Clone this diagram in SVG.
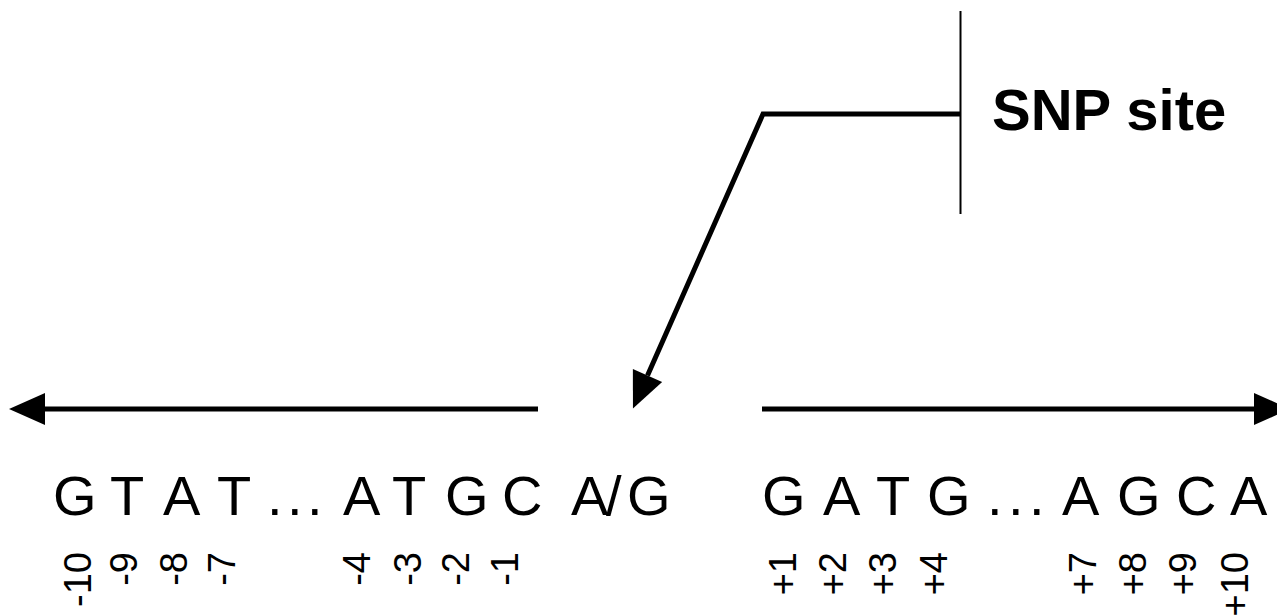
<svg xmlns="http://www.w3.org/2000/svg" width="1277" height="615" viewBox="0 0 1277 615">
  <defs>
    <style>
      .seq { font-family: "Liberation Sans", Arial, sans-serif; font-size: 56px; fill: #000; }
      .lbl { font-family: "Liberation Sans", Arial, sans-serif; font-size: 58px; font-weight: bold; fill: #000; }
      .pos { font-family: "Liberation Sans", Arial, sans-serif; font-size: 38px; fill: #000; }
      .thick { fill: none; stroke: #000; stroke-width: 5; stroke-linejoin: miter; }
      .thin { fill: none; stroke: #000; stroke-width: 2; }
    </style>
    <marker id="head" markerUnits="userSpaceOnUse" markerWidth="40" markerHeight="36" refX="0" refY="16" orient="auto" overflow="visible">
      <path d="M0,0 L36,16 L0,32 Z" fill="#000"/>
    </marker>
  </defs>
  <rect x="0" y="0" width="1277" height="615" fill="#fff"/>

  <g id="connectors">
    <line class="thick" x1="538" y1="409" x2="45" y2="409" marker-end="url(#head)"/>
    <line class="thick" x1="762" y1="409" x2="1254" y2="409" marker-end="url(#head)"/>
    <path class="thick" d="M960,114 L763,114 L647.5,375.5" marker-end="url(#head)"/>
    <line class="thin" x1="960.5" y1="11" x2="960.5" y2="214"/>
  </g>

  <g id="snp-label">
    <text class="lbl" x="992" y="130">SNP site</text>
  </g>

  <g id="sequence-left">
    <text class="seq" x="53 110 163 217 267 287 307 343 392 445 502 540 571 606 627" y="515">GTAT...ATGC A/G</text>
  </g>

  <g id="sequence-right">
    <text class="seq" x="762 823 876 927 987 1008 1029 1062 1117 1176 1230" y="515">GATG...AGCA</text>
  </g>

  <g id="positions-left" class="pos" text-anchor="end">
    <text transform="translate(91,552) rotate(-90)">-10</text>
    <text transform="translate(137,552) rotate(-90)">-9</text>
    <text transform="translate(187,552) rotate(-90)">-8</text>
    <text transform="translate(235,552) rotate(-90)">-7</text>
    <text transform="translate(370,552) rotate(-90)">-4</text>
    <text transform="translate(421,552) rotate(-90)">-3</text>
    <text transform="translate(469,552) rotate(-90)">-2</text>
    <text transform="translate(518,552) rotate(-90)">-1</text>
  </g>

  <g id="positions-right" class="pos" text-anchor="end">
    <text transform="translate(796,552) rotate(-90)">+1</text>
    <text transform="translate(846,552) rotate(-90)">+2</text>
    <text transform="translate(896,552) rotate(-90)">+3</text>
    <text transform="translate(947,552) rotate(-90)">+4</text>
    <text transform="translate(1096,552) rotate(-90)">+7</text>
    <text transform="translate(1146,552) rotate(-90)">+8</text>
    <text transform="translate(1196,552) rotate(-90)">+9</text>
    <text transform="translate(1248,552) rotate(-90)">+10</text>
  </g>
</svg>
